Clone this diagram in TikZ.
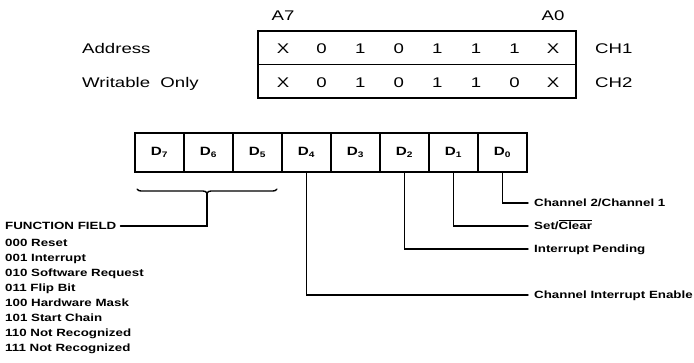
\documentclass[tikz,border=0pt]{standalone}
\usepackage{fontspec}
\setsansfont{Liberation Sans}
\newfontfamily\regfont[FakeStretch=1.33]{Liberation Sans}
\newfontfamily\heavyfont[FakeStretch=1.27]{Liberation Sans}
\usetikzlibrary{positioning,decorations.pathreplacing}

\begin{document}
\begin{tikzpicture}[
  x=1pt, y=-1pt,
  line cap=round,
  regtxt/.style={font=\regfont\fontsize{14}{16}\selectfont, inner sep=0pt},
  bittxt/.style={font=\heavyfont\bfseries\fontsize{10.5}{15}\selectfont},
  regrow/.style={rectangle, draw, line width=1.4pt, minimum width=318pt, minimum height=33.5pt, inner sep=0pt},
  bitbox/.style={rectangle, draw, line width=2pt, minimum width=49pt, minimum height=39pt,
    inner sep=0pt, font=\heavyfont\bfseries\fontsize{12}{14}\selectfont},
  lead/.style={line width=1.4pt},
  leadlbl/.style={bittxt, anchor=west, inner xsep=6pt, inner ysep=0pt, text height=8pt, text depth=2pt},
]
  \useasboundingbox (0,0) rectangle (694,362);
  % Address register, CH1 and CH2 rows
  \node[regrow] (row1) at (417,47.75) {};
  \node[regrow] (row2) at (417,81.25) {};
  \foreach \v [count=\k] in {X,0,1,0,1,1,1,X}
    \node[regtxt, anchor=base] (ch1b\k) at ({244.4+38.6*\k},53) {\v};
  \foreach \v [count=\k] in {X,0,1,0,1,1,0,X}
    \node[regtxt, anchor=base] (ch2b\k) at ({244.4+38.6*\k},87) {\v};
  \node[regtxt, anchor=base] (a7) at (283,20) {A7};
  \node[regtxt, anchor=base] (a0) at (553,20) {A0};
  \node[regtxt, anchor=base west] (addr) at (82,53) {Address};
  \node[regtxt, anchor=base west] (wronly) at (82,87) {Writable\ \ Only};
  \node[regtxt, anchor=base west] (ch1) at (595,53) {CH1};
  \node[regtxt, anchor=base west] (ch2) at (595,87) {CH2};
  % Command byte D7..D0
  \foreach \b [count=\k] in {7,6,...,0}
    \node[bitbox] (d\b) at ({110.5+49*\k},152.5) {D\textsubscript{\b}};
  % Function field (D7..D5)
  \draw[lead, decorate, decoration={brace, mirror, amplitude=4pt}] (137,189) -- (277,189);
  \coordinate (fftip) at (207,193);
  \node[bittxt, anchor=west, inner xsep=4pt] (ffield) at (1,226) {FUNCTION FIELD};
  \draw[lead] (fftip) |- (ffield.east);
  \foreach \code/\fname [count=\k] in {000/Reset, 001/Interrupt, 010/Software Request,
      011/Flip Bit, 100/Hardware Mask, 101/Start Chain, 110/Not Recognized, 111/Not Recognized}
    \node[bittxt, anchor=base west, inner sep=0pt] (fn\k) at (5,{231+15*\k}) {\code\ \fname};
  % Single bit descriptions
  \node[leadlbl] (ch21) at (528,203) {Channel 2/Channel 1};
  \node[leadlbl] (setclr) at (528,226) {Set/\ensuremath{\overline{\hbox{Clear}}}};
  \node[leadlbl] (intpend) at (528,249) {Interrupt Pending};
  \node[leadlbl] (chie) at (528,295) {Channel Interrupt Enable};
  \draw[lead] (d0) |- (ch21.west);
  \draw[lead] (d1) |- (setclr.west);
  \draw[lead] (d2) |- (intpend.west);
  \draw[lead] (d4) |- (chie.west);
\end{tikzpicture}
\end{document}
